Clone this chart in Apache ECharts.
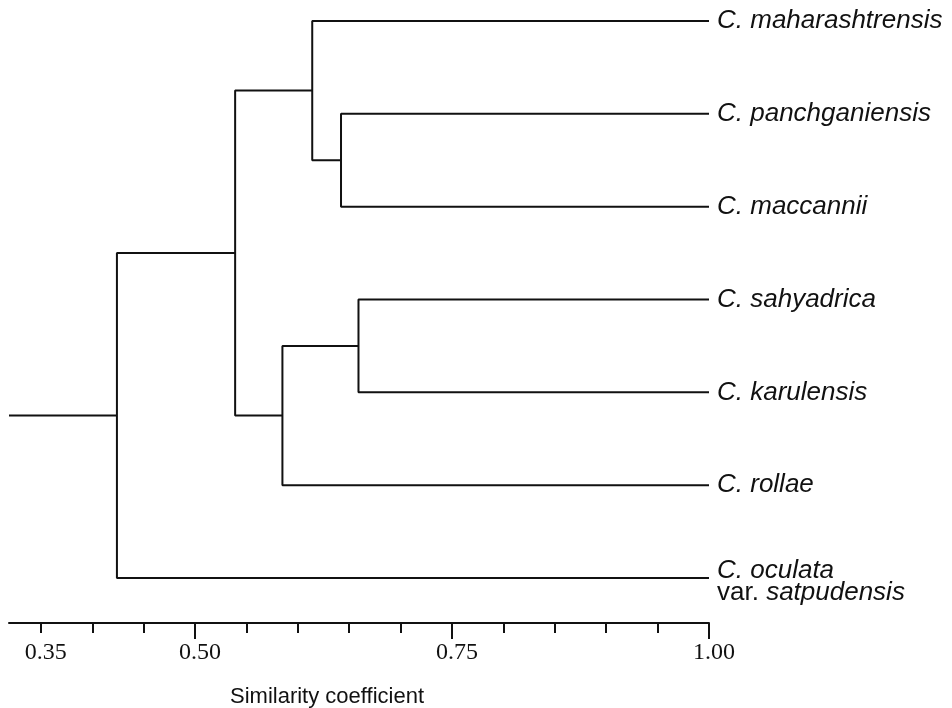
<!DOCTYPE html>
<html lang="en">
<head>
    <meta charset="UTF-8">
    <title>Dendrogram</title>
    <script src="https://cdn.jsdelivr.net/npm/echarts@6.0.0/dist/echarts.min.js"></script>
    <style>
        html, body { margin: 0; padding: 0; background: #fff; }
        #graph { width: 952px; height: 708px; }
    </style>
</head>
<body>
    <div id="graph"></div>

    <script>
        // leaves top to bottom
        var leaves = ['C. maharashtrensis', 'C. panchganiensis', 'C. maccannii', 'C. sahyadrica',
                      'C. karulensis', 'C. rollae', 'C. oculata var. satpudensis'];
        // merges: [childA, childB, similarity]; new nodes numbered 7, 8, ...
        var merges = [
            [3, 4, 0.659],
            [1, 2, 0.642],
            [0, 8, 0.614],
            [7, 5, 0.585],
            [9, 10, 0.539],
            [11, 6, 0.424]
        ];
        var axisStart = 0.319;
        var tickValues = [0.35, 0.40, 0.45, 0.50, 0.55, 0.60, 0.65, 0.70, 0.75, 0.80, 0.85, 0.90, 0.95, 1.00];
        var majorTicks = [0.50, 0.75, 1.00];
        var tickLabels = [0.35, 0.50, 0.75, 1.00];

        var myChart = echarts.init(document.getElementById('graph'));
        var lineColor = '#111';

        // node positions
        var nx = [];
        var ny = [];
        for (var i = 0; i < leaves.length; i++) {
            nx.push(1.0);
            ny.push(i);
        }
        var s = [];
        merges.forEach(function (m) {
            var a = m[0], b = m[1], h = m[2];
            var y = (ny[a] + ny[b]) / 2;
            s.push({
                type: 'line',
                data: [[nx[a], ny[a]], [h, ny[a]], [h, ny[b]], [nx[b], ny[b]]],
                showSymbol: false,
                symbol: 'none',
                silent: true,
                clip: false,
                lineStyle: { color: lineColor, width: 2 }
            });
            nx.push(h);
            ny.push(y);
        });
        // root stem
        var root = nx.length - 1;
        s.push({
            type: 'line',
            data: [[axisStart, ny[root]], [nx[root], ny[root]]],
            showSymbol: false,
            symbol: 'none',
            silent: true,
            clip: false,
            lineStyle: { color: lineColor, width: 2 }
        });

        // leaf labels
        var labelData = leaves.map(function (name, i) {
            var item = { value: [1.0, i], label: {} };
            if (name.indexOf(' var. ') > 0) {
                var parts = name.split(' var. ');
                item.label.formatter = '{i|' + parts[0] + '}\n{n|var. }{i|' + parts[1] + '}';
                item.label.padding = [8, 0, 0, 0];
            } else {
                item.label.formatter = '{i|' + name + '}';
            }
            return item;
        });
        s.push({
            type: 'scatter',
            data: labelData,
            symbolSize: 0,
            silent: true,
            clip: false,
            itemStyle: { opacity: 1 },
            label: {
                show: true,
                position: 'right',
                distance: 8,
                color: '#111',
                opacity: 1,
                rich: {
                    i: { fontFamily: 'Liberation Sans', fontStyle: 'italic', fontSize: 26, lineHeight: 22, color: '#111' },
                    n: { fontFamily: 'Liberation Sans', fontSize: 26, lineHeight: 22, color: '#111' }
                }
            }
        });

        var option = {
            animation: false,
            title: {
                text: 'Similarity coefficient',
                left: 225,
                top: 681,
                textStyle: { fontFamily: 'Liberation Sans', fontWeight: 'normal', fontSize: 22, color: '#111' }
            },
            grid: { left: 9, right: 243, top: 2.43, bottom: 85 },
            xAxis: [{
                type: 'value',
                min: axisStart,
                max: 1.0,
                splitLine: { show: false },
                axisLine: { show: true, onZero: false, lineStyle: { color: lineColor, width: 2 } },
                axisTick: { show: true, length: 10, customValues: tickValues, lineStyle: { color: lineColor, width: 2 } },
                axisLabel: {
                    customValues: tickLabels,
                    fontFamily: 'Liberation Serif',
                    fontSize: 24,
                    color: '#111',
                    margin: 18,
                    padding: [0, 0, 0, 10],
                    formatter: function (v) { return v.toFixed(2); }
                }
            }, {
                type: 'value',
                position: 'bottom',
                min: axisStart,
                max: 1.0,
                splitLine: { show: false },
                axisLine: { show: false, onZero: false },
                axisTick: { show: true, length: 16, customValues: majorTicks, lineStyle: { color: lineColor, width: 2 } },
                axisLabel: { show: false }
            }],
            yAxis: {
                type: 'value',
                min: -0.2,
                max: 6.485,
                inverse: true,
                show: false
            },
            series: s
        };
        myChart.setOption(option);
    </script>
</body>
</html>
